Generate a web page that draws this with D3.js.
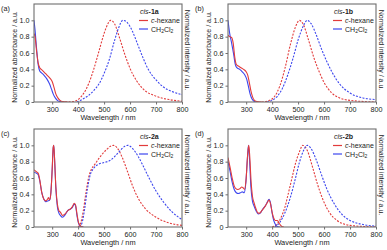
<!DOCTYPE html>
<html>
<head>
<meta charset="utf-8">
<script src="https://cdn.jsdelivr.net/npm/d3@7"></script>
<style>
  body { margin: 0; background: white; }
  svg { font-family: "Liberation Sans", Arial, sans-serif; }
</style>
</head>
<body>
<svg id="chart" width="387" height="250"></svg>
<script>
// ---- data: [wavelength nm, normalized value] ----
var absHex1a = [[230,0.84],[234,0.80],[240,0.62],[246,0.48],[252,0.42],[258,0.40],[268,0.37],[280,0.33],[292,0.29],[300,0.25],[307,0.18],[314,0.10],[322,0.05],[330,0.02],[340,0.005],[360,0]];
var absDcm1a = [[230,1.0],[234,0.88],[240,0.65],[246,0.46],[252,0.38],[258,0.36],[268,0.33],[280,0.28],[290,0.22],[297,0.16],[305,0.09],[312,0.05],[320,0.02],[330,0.005],[345,0]];
var emHex1a = [[350,0],[380,0.005],[400,0.03],[420,0.1],[440,0.22],[460,0.4],[480,0.62],[500,0.84],[515,0.96],[525,1.0],[540,0.96],[560,0.78],[580,0.58],[600,0.41],[625,0.26],[650,0.16],[700,0.07],[750,0.03],[800,0.01]];
var emDcm1a = [[395,0],[420,0.04],[440,0.08],[460,0.14],[480,0.22],[500,0.35],[520,0.52],[540,0.75],[555,0.9],[572,1.0],[590,0.97],[610,0.86],[630,0.7],[650,0.54],[670,0.4],[700,0.27],[730,0.18],[760,0.13],[800,0.09]];

var absHex1b = [[230,0.82],[236,0.80],[244,0.79],[250,0.72],[256,0.55],[262,0.46],[270,0.44],[280,0.42],[290,0.40],[300,0.37],[306,0.33],[312,0.24],[318,0.14],[325,0.06],[332,0.02],[342,0.005],[360,0]];
var absDcm1b = [[230,1.0],[236,0.85],[244,0.72],[252,0.58],[258,0.46],[264,0.42],[275,0.40],[285,0.37],[295,0.33],[302,0.28],[308,0.2],[315,0.1],[322,0.04],[330,0.01],[340,0]];
var emHex1b = [[360,0],[390,0.02],[410,0.07],[430,0.2],[450,0.42],[470,0.7],[490,0.92],[505,1.0],[520,0.95],[540,0.76],[560,0.55],[580,0.38],[600,0.24],[630,0.11],[660,0.05],[700,0.02],[800,0]];
var emDcm1b = [[380,0],[400,0.02],[420,0.07],[440,0.17],[460,0.33],[480,0.53],[500,0.76],[520,0.93],[535,1.0],[550,0.96],[570,0.82],[590,0.65],[610,0.5],[630,0.37],[660,0.22],[700,0.11],[750,0.05],[800,0.03]];

var absHex2a = [[230,0.70],[238,0.68],[246,0.66],[252,0.58],[260,0.42],[268,0.34],[276,0.32],[282,0.34],[286,0.36],[290,0.33],[295,0.42],[300,0.7],[304,0.98],[306,1.0],[309,0.85],[314,0.5],[320,0.28],[326,0.2],[332,0.18],[340,0.14],[350,0.16],[360,0.2],[370,0.22],[378,0.25],[385,0.29],[390,0.27],[396,0.15],[402,0.05],[410,0.01],[420,0]];
var absDcm2a = [[230,0.67],[238,0.66],[246,0.64],[252,0.57],[260,0.42],[268,0.34],[276,0.31],[284,0.32],[290,0.33],[295,0.42],[300,0.7],[304,0.97],[306,1.0],[309,0.85],[314,0.48],[320,0.25],[326,0.17],[332,0.14],[340,0.12],[350,0.15],[360,0.2],[370,0.22],[378,0.24],[385,0.28],[390,0.26],[396,0.13],[402,0.04],[410,0.01],[420,0]];
var emHex2a = [[400,0],[410,0.05],[420,0.2],[430,0.42],[440,0.6],[450,0.7],[465,0.77],[480,0.84],[495,0.9],[510,0.95],[525,0.99],[537,1.0],[550,0.97],[570,0.85],[590,0.68],[610,0.5],[630,0.36],[660,0.22],[700,0.12],[750,0.05],[800,0.02]];
var emDcm2a = [[405,0],[415,0.05],[425,0.22],[435,0.45],[445,0.62],[460,0.72],[480,0.77],[500,0.79],[520,0.81],[540,0.86],[560,0.93],[580,0.99],[592,1.0],[610,0.96],[630,0.87],[650,0.75],[670,0.62],[700,0.44],[730,0.3],[760,0.19],[800,0.09]];

var absHex2b = [[230,0.85],[238,0.73],[246,0.6],[254,0.5],[260,0.47],[268,0.46],[276,0.47],[283,0.49],[288,0.48],[294,0.46],[300,0.6],[306,0.9],[310,1.0],[314,0.85],[319,0.55],[324,0.38],[330,0.3],[338,0.22],[346,0.17],[352,0.17],[360,0.2],[370,0.24],[380,0.29],[388,0.33],[394,0.28],[400,0.18],[406,0.11],[412,0.08],[420,0.08],[428,0.04],[436,0.01],[445,0]];
var absDcm2b = [[230,0.8],[238,0.68],[246,0.55],[254,0.46],[262,0.42],[270,0.41],[278,0.42],[285,0.43],[292,0.42],[299,0.55],[305,0.85],[309,1.0],[313,0.82],[318,0.5],[324,0.32],[330,0.26],[338,0.2],[346,0.16],[354,0.17],[364,0.22],[374,0.26],[382,0.31],[388,0.34],[394,0.29],[400,0.17],[406,0.08],[413,0.03],[420,0.005],[430,0]];
var emHex2b = [[400,0],[420,0.04],[440,0.16],[450,0.25],[460,0.38],[475,0.58],[490,0.78],[505,0.92],[518,1.0],[535,0.94],[555,0.74],[575,0.52],[595,0.34],[620,0.18],[650,0.08],[700,0.02],[800,0]];
var emDcm2b = [[410,0],[430,0.06],[450,0.18],[470,0.36],[490,0.6],[505,0.79],[520,0.93],[535,1.0],[550,0.96],[570,0.82],[590,0.64],[610,0.47],[640,0.28],[670,0.15],[700,0.08],[750,0.03],[800,0.01]];

var panelLetters = ["(a)", "(b)", "(c)", "(d)"];
var compounds = ["1a", "1b", "2a", "2b"];
var xTicks = [300, 400, 500, 600, 700, 800];
var yTicks = [0, 0.2, 0.4, 0.6, 0.8, 1.0];
var xDomain = [230, 800];
var yDomain = [0, 1.2];

var series = [
    [absHex1a, absDcm1a, emHex1a, emDcm1a],
    [absHex1b, absDcm1b, emHex1b, emDcm1b],
    [absHex2a, absDcm2a, emHex2a, emDcm2a],
    [absHex2b, absDcm2b, emHex2b, emDcm2b]
];

var RED = "#e23b3b";
var BLUE = "#3c46ee";
var AXIS = "#6e6e6e";

function draw_panel(svg, k, left, top) {
    "use strict";
    var w = 148;
    var h = 98;

    var x = d3.scaleLinear().domain(xDomain).range([0, w]);
    var y = d3.scaleLinear().domain(yDomain).range([h, 0]);

    var g = svg.append("g")
        .attr("transform", "translate({x},{y})".replace("{x}", left).replace("{y}", top));

    var line = d3.line()
        .x(function(d) { return x(d[0]); })
        .y(function(d) { return y(d[1]); })
        .curve(d3.curveMonotoneX);

    var clipId = "clip" + k;
    g.append("clipPath").attr("id", clipId)
        .append("rect").attr("width", w).attr("height", h);

    var styles = [
        {color: RED, dash: null},
        {color: BLUE, dash: null},
        {color: RED, dash: "2,1.4"},
        {color: BLUE, dash: "2,1.4"}
    ];

    // emission first, absorbance on top
    [2, 3, 1, 0].forEach(function(i) {
        g.append("path")
            .datum(series[k][i])
            .attr("clip-path", "url(#" + clipId + ")")
            .attr("fill", "none")
            .attr("stroke", styles[i].color)
            .attr("stroke-width", 1.1)
            .attr("stroke-dasharray", styles[i].dash)
            .attr("d", line);
    });

    // axes
    var xAxis = d3.axisBottom(x).tickValues(xTicks).tickSize(2.5).tickPadding(2);
    var yAxis = d3.axisLeft(y).tickValues(yTicks).tickSize(2.5).tickPadding(2)
        .tickFormat(function(d) { return d === 0 ? "0" : d3.format(".1f")(d); });

    var gx = g.append("g").attr("transform", "translate(0," + h + ")").call(xAxis);
    var gy = g.append("g").call(yAxis);
    [gx, gy].forEach(function(a) {
        a.select(".domain").remove();
        a.selectAll("line").attr("stroke", AXIS);
        a.selectAll("text").attr("font-size", 7.2).attr("fill", "#222")
            .attr("font-family", "Liberation Sans, Arial, sans-serif");
    });

    g.append("rect")
        .attr("width", w).attr("height", h)
        .attr("fill", "none")
        .attr("stroke", AXIS)
        .attr("stroke-width", 1.1);

    // labels
    svg.append("text")
        .attr("x", left - 33).attr("y", top + 7)
        .attr("font-size", 7.2).attr("fill", "#222")
        .text(panelLetters[k]);

    g.append("text")
        .attr("x", w / 2).attr("y", h + 18)
        .attr("text-anchor", "middle")
        .attr("font-size", 7.4).attr("fill", "#222")
        .text("Wavelength / nm");

    g.append("text")
        .attr("transform", "translate(-17," + (h / 2 + 4) + ") rotate(-90)")
        .attr("text-anchor", "middle")
        .attr("font-size", 7).attr("fill", "#222")
        .text("Normalized absorbance / a.u.");

    g.append("text")
        .attr("transform", "translate(" + (w + 3) + "," + (h / 2 - 3) + ") rotate(90)")
        .attr("text-anchor", "middle")
        .attr("font-size", 7).attr("fill", "#222")
        .text("Normalized intensity / a.u.");

    // legend
    var lg = g.append("g").attr("transform", "translate(104,0)");
    var title = lg.append("text").attr("x", 2).attr("y", 10)
        .attr("font-size", 7).attr("fill", "#222");
    title.append("tspan").attr("font-style", "italic").text("cis");
    title.append("tspan").attr("font-weight", "bold").text("-" + compounds[k]);

    lg.append("line").attr("x1", 1).attr("x2", 10).attr("y1", 16.5).attr("y2", 16.5)
        .attr("stroke", RED).attr("stroke-width", 1.2);
    var t1 = lg.append("text").attr("x", 13).attr("y", 19)
        .attr("font-size", 7).attr("fill", "#222");
    t1.append("tspan").attr("font-style", "italic").text("c");
    t1.append("tspan").text("-hexane");

    lg.append("line").attr("x1", 1).attr("x2", 10).attr("y1", 25).attr("y2", 25)
        .attr("stroke", BLUE).attr("stroke-width", 1.2);
    var t2 = lg.append("text").attr("x", 13).attr("y", 27.5)
        .attr("font-size", 7).attr("fill", "#222");
    t2.append("tspan").text("CH");
    t2.append("tspan").attr("font-size", 5).attr("dy", 1.5).text("2");
    t2.append("tspan").attr("dy", -1.5).text("Cl");
    t2.append("tspan").attr("font-size", 5).attr("dy", 1.5).text("2");
}

var svg = d3.select("#chart");
var offsets = [[34, 4], [228, 4], [34, 129], [228, 129]];
offsets.forEach(function(o, k) { draw_panel(svg, k, o[0], o[1]); });
</script>
</body>
</html>
